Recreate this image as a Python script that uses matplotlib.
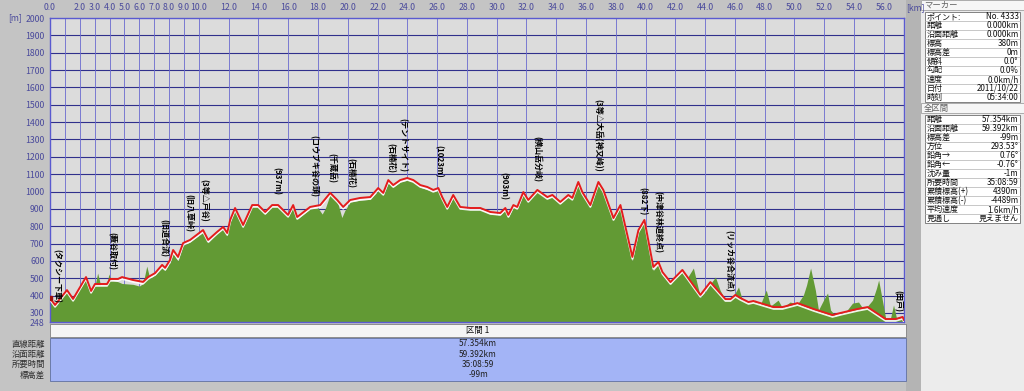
import numpy as np
import matplotlib
matplotlib.use("Agg")
import matplotlib.pyplot as plt
import matplotlib.patheffects as pe
from matplotlib.patches import Rectangle

plt.rcParams['font.family'] = ['Noto Sans CJK JP', 'DejaVu Sans']

# GPS track (red line)
track_km = [0.00, 0.34, 1.14, 1.55, 2.42, 2.76, 3.02, 3.83, 4.03, 4.57, 4.84, 5.58, 6.25, 6.59,
            7.06, 7.53, 7.73, 8.06, 8.27, 8.60, 8.94, 9.41, 10.28, 10.62, 11.22, 11.63, 11.90,
            12.10, 12.43, 12.97, 13.58, 13.98, 14.45, 14.92, 15.32, 15.99, 16.33, 16.60, 17.47,
            18.15, 18.82, 19.29, 19.69, 20.16, 20.83, 21.51, 22.04, 22.38, 22.72, 23.05, 23.52,
            23.99, 24.40, 24.87, 25.34, 25.74, 26.08, 26.34, 26.68, 27.08, 27.55, 28.23, 28.90,
            29.57, 30.24, 30.58, 30.78, 31.12, 31.38, 31.79, 32.12, 32.73, 33.40, 33.74, 34.27,
            34.81, 35.08, 35.48, 35.75, 36.29, 36.83, 37.16, 37.84, 38.31, 39.11, 39.52, 39.92,
            40.52, 40.86, 41.13, 41.67, 42.47, 43.68, 44.35, 45.36, 45.70, 46.03, 46.37, 46.91,
            47.24, 48.59, 49.19, 50.20, 51.28, 52.55, 53.09, 54.23, 54.91, 56.12, 56.79, 57.26,
            57.35]
track_elev = [386, 346, 432, 381, 507, 427, 467, 467, 496, 496, 507, 490, 479, 507,
              530, 577, 560, 605, 663, 623, 703, 721, 778, 721, 767, 796, 761,
              836, 905, 807, 922, 922, 882, 922, 922, 865, 922, 853, 911,
              922, 992, 951, 911, 951, 963, 968, 1020, 992, 1066, 1037, 1066,
              1078, 1066, 1037, 1026, 1009, 1020, 968, 911, 980, 911, 905, 905,
              882, 876, 905, 865, 922, 911, 997, 951, 1009, 968, 980, 940,
              980, 963, 1055, 997, 922, 1055, 1009, 847, 922, 623, 778, 836,
              565, 594, 536, 478, 548, 404, 478, 380, 380, 404, 386, 363,
              369, 334, 334, 357, 323, 288, 300, 323, 334, 265, 265, 277,
              260]

# terrain (green)
dem_km = [0.00, 0.34, 1.14, 1.55, 2.42, 2.76, 3.02, 3.20, 3.40, 3.83, 3.95, 4.10, 4.57, 4.84,
          5.58, 6.00, 6.25, 6.50, 6.70, 7.06, 7.53, 7.73, 8.06, 8.27, 8.60, 8.94, 9.41, 10.28,
          10.62, 11.22, 11.63, 11.90, 12.10, 12.43, 12.97, 13.58, 13.98, 14.45, 14.92, 15.32,
          15.99, 16.33, 16.60, 17.47, 18.00, 18.28, 18.50, 18.82, 19.29, 19.60, 19.80, 20.16,
          20.83, 21.51, 22.04, 22.38, 22.72, 23.05, 23.52, 23.99, 24.40, 24.87, 25.34, 25.74,
          26.08, 26.34, 26.68, 27.08, 27.55, 28.23, 28.90, 29.57, 30.24, 30.58, 30.78, 31.12,
          31.38, 31.79, 32.12, 32.73, 33.40, 33.74, 34.27, 34.81, 35.08, 35.48, 35.75, 36.29,
          36.83, 37.16, 37.84, 38.31, 39.11, 39.52, 39.92, 40.52, 40.86, 41.13, 41.67, 42.00,
          42.47, 42.80, 43.21, 43.48, 43.68, 44.00, 44.35, 44.69, 45.00, 45.36, 45.83, 46.24,
          46.50, 46.91, 47.38, 47.70, 48.10, 48.39, 48.90, 49.19, 49.70, 50.20, 50.60, 50.81,
          51.08, 51.40, 51.61, 51.95, 52.22, 52.42, 52.76, 53.43, 53.90, 54.30, 54.57, 54.91,
          55.24, 55.51, 55.65, 55.90, 56.12, 56.45, 56.65, 56.85, 57.26, 57.35]
dem_elev = [380, 340, 425, 375, 495, 420, 455, 530, 460, 465, 525, 490, 480, 470,
            465, 455, 470, 570, 500, 520, 560, 545, 590, 640, 600, 690, 710, 765,
            705, 760, 785, 745, 825, 895, 795, 915, 915, 870, 915, 920,
            855, 910, 840, 900, 905, 870, 905, 985, 945, 850, 890, 940,
            950, 955, 1005, 980, 1050, 1025, 1055, 1065, 1055, 1025, 1010, 1000,
            1005, 955, 900, 965, 900, 895, 895, 870, 865, 895, 850, 910,
            900, 985, 945, 1000, 960, 970, 930, 970, 955, 1045, 985, 910,
            1045, 1000, 835, 910, 600, 765, 825, 545, 580, 520, 465, 500,
            536, 502, 559, 461, 392, 421, 467, 507, 432, 374, 386, 450,
            374, 357, 374, 346, 432, 340, 374, 329, 363, 351, 404, 461,
            559, 432, 317, 374, 415, 317, 283, 305, 357, 363, 329, 340,
            374, 444, 490, 374, 271, 271, 346, 271, 283, 260]

# waypoint labels: name, km, elevation of label foot
wp_names = ['(タクシー下車)', '(藪谷取付)', '(旧道合流)', '(旧八草峠)', '(3等△戸谷)', '(937m)',
            '(コウブキ谷の頭)', '(千蔵岳)', '(石楠花)', '(石楠花)', '(テントサイト)', '(1023m)',
            '(903m)', '(横山岳分岐)', '(3等△大岳(神又峰))', '(882下)', '(中津谷林道終点)',
            '(リッカ谷合流点)', '(田戸)']
wp_km = [0.45, 4.17, 7.60, 9.34, 10.30, 15.25, 17.70, 18.95, 20.16, 22.85, 23.70, 26.10,
         30.45, 32.70, 36.80, 39.80, 40.80, 45.60, 56.90]
wp_elev = [357, 548, 623, 767, 824, 980, 968, 1049, 1020, 1107, 1112, 1078,
           951, 1055, 1112, 865, 646, 421, 305]

x_ticks = [0, 1, 2, 3, 4, 5, 6, 7, 8, 9, 10, 12, 14, 16, 18, 20, 22, 24, 26, 28, 30, 32, 34,
           36, 38, 40, 42, 44, 46, 48, 50, 52, 54, 56]
x_labels = ['' if v == 1 else f'{v:.1f}' for v in x_ticks]
y_ticks = [248] + list(range(300, 2001, 100))
y_min, y_max = 248, 2000
total_km = 57.354

marker_rows = [('ポイント:', 'No. 4333'), ('距離', '0.000km'), ('沿面距離', '0.000km'),
               ('標高', '380m'), ('標高差', '0m'), ('傾斜', '0.0°'), ('勾配', '0.0%'),
               ('速度', '0.0km/h'), ('日付', '2011/10/22'), ('時刻', '05:34:00')]
total_rows = [('距離', '57.354km'), ('沿面距離', '59.392km'), ('標高差', '-99m'),
              ('方位', '293.53°'), ('鉛角→', '0.76°'), ('鉛角←', '-0.76°'), ('沈み量', '-1m'),
              ('所要時間', '35:08:59'), ('累積標高(+)', '4390m'), ('累積標高(-)', '-4489m'),
              ('平均速度', '1.6km/h'), ('見通し', '見えません')]
section_name = '区間 1'
section_rows = [('直線距離', '57.354km'), ('沿面距離', '59.392km'),
                ('所要時間', '35:08:59'), ('標高差', '-99m')]

W, H = 1024, 391
fig = plt.figure(figsize=(W / 100, H / 100), dpi=100)
fig.patch.set_facecolor('#c4c4c4')

# overlay in pixel coordinates for the panels
bg = fig.add_axes([0, 0, 1, 1])
bg.set_xlim(0, W)
bg.set_ylim(H, 0)
bg.axis('off')

# right side panel
bg.add_patch(Rectangle((906, 0), 15, H, color='#b4b4b4', lw=0))
bg.add_patch(Rectangle((921, 0), W - 921, H, color='#ececec', lw=0))
tc = '#101010'
def panel_table(y0, title, rows):
    bg.add_patch(Rectangle((921, y0 - 10), W - 921, 10, facecolor='#f6f6f6', edgecolor='#a0a0a0', lw=0.6))
    bg.text(924, y0 - 5, title, fontsize=6, color='#606060', va='center')
    rh = 9.0
    bg.add_patch(Rectangle((925, y0 + 2), 95, rh * len(rows), facecolor='#ffffff', edgecolor='#707070', lw=0.6))
    for i, (k, v) in enumerate(rows):
        yy = y0 + 2 + rh * i
        if i > 0:
            bg.plot([925, 1020], [yy, yy], color='#b0b0b0', lw=0.5)
        bg.text(926.5, yy + rh / 2, k, fontsize=5.8, color=tc, va='center', ha='left')
        bg.text(1018.5, yy + rh / 2, v, fontsize=5.8, color=tc, va='center', ha='right')

panel_table(10, 'マーカー', marker_rows)
panel_table(113, '全区間', total_rows)

# bottom section band
bg.add_patch(Rectangle((50, 324), 856, 13, facecolor='#f4f4f4', edgecolor='#808080', lw=0.6))
bg.text(478, 330.5, section_name, fontsize=6, ha='center', va='center', color=tc)
bg.add_patch(Rectangle((50, 338), 856, 43, facecolor='#a3b4f6', edgecolor='#6070a0', lw=0.6))
for i, (k, v) in enumerate(section_rows):
    yy = 344 + 10.3 * i
    bg.text(45, yy, k, fontsize=6, ha='right', va='center', color='#303030')
    bg.text(478, yy, v, fontsize=6, ha='center', va='center', color='#202020')

# main profile
ax = fig.add_axes([50 / W, 1 - 322 / H, (904 - 50) / W, (322 - 18) / H])
ax.set_facecolor('#dcdcdc')
ax.set_xlim(0, total_km)
ax.set_ylim(y_min, y_max)

for y in y_ticks[1:-1]:
    ax.axhline(y, color='#30308c', lw=0.8, zorder=1)
for x in x_ticks[1:]:
    ax.axvline(x, color='#6a6ad0', lw=0.6, zorder=1)

ax.fill_between(dem_km, dem_elev, y_min, color='#629a34', lw=0, zorder=2)
ax.plot(track_km, track_elev, color='#e41c1c', lw=1.4, zorder=4,
        path_effects=[pe.SimpleLineShadow(offset=(0, -1.3), shadow_color='#ffffff', alpha=0.9), pe.Normal()])
ax.plot(track_km[0], track_elev[0], marker='s', ms=3.5, color='#a01010', zorder=5)

for name, k, e in zip(wp_names, wp_km, wp_elev):
    ax.text(k, e, name, rotation=270, fontsize=5.8, fontweight='bold', ha='center', va='bottom',
            color='#000000', zorder=6)

ax.xaxis.tick_top()
ax.set_xticks(x_ticks)
ax.set_xticklabels(x_labels)
ax.set_yticks(y_ticks)
ax.set_yticklabels([str(v) for v in y_ticks])
ax.tick_params(length=0, labelsize=6.3, labelcolor='#4a4a9c', pad=4)
for s in ax.spines.values():
    s.set_color('#5a5ad0')
    s.set_linewidth(1)

fig.text(8 / W, 1 - 18 / H, '[m]', fontsize=6.3, color='#4a4a9c', va='center', ha='left')
fig.text(906 / W, 1 - 8 / H, '[km]', fontsize=6.3, color='#4a4a9c', va='center', ha='left')

fig.savefig('out.png', dpi=100, facecolor=fig.get_facecolor())
